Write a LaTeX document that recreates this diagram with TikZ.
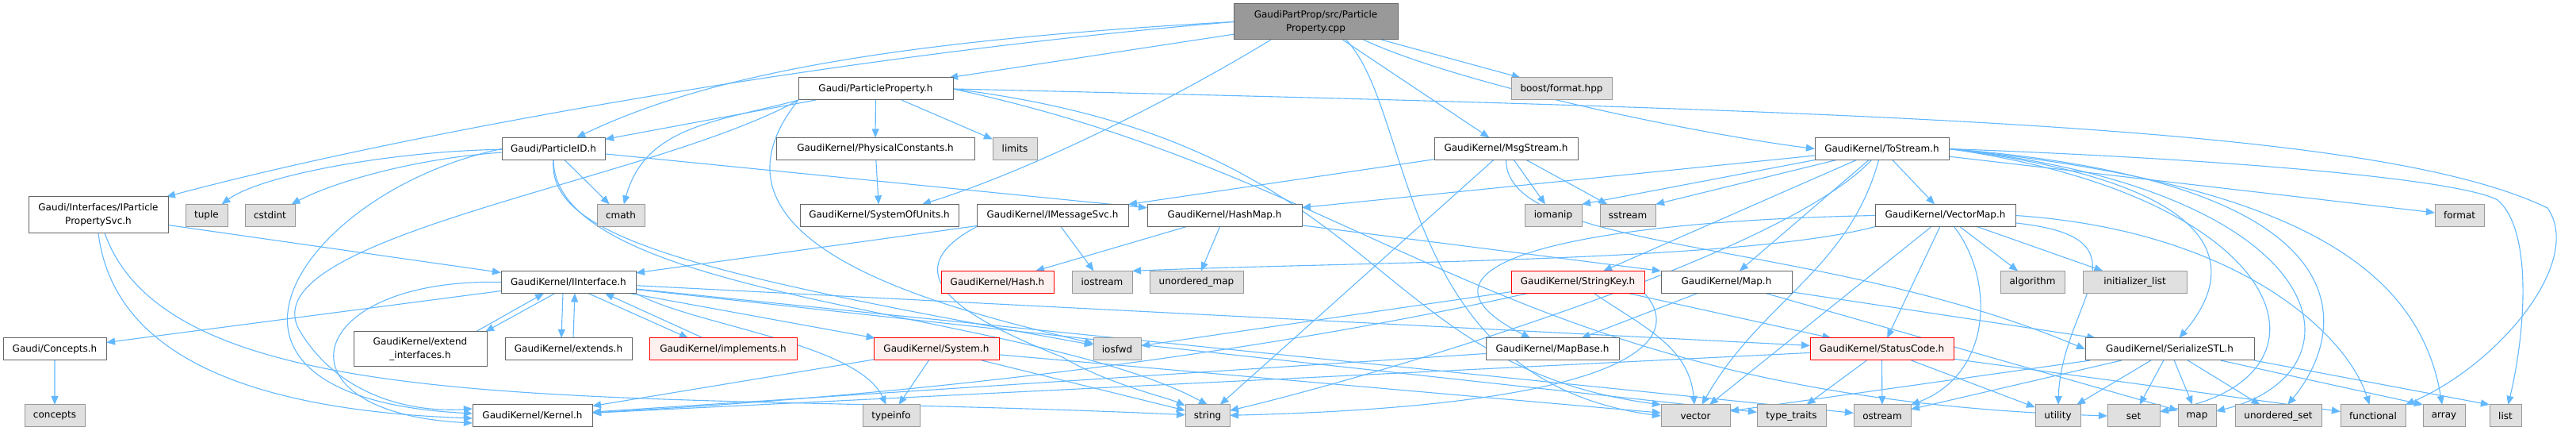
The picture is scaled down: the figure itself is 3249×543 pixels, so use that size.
\documentclass[tikz,border=0pt]{standalone}
\usepackage{fontspec}
\setmainfont{DejaVu Sans}
\usetikzlibrary{arrows.meta,backgrounds}

\definecolor{edgeblue}{HTML}{63B8FF}
\definecolor{boxline}{HTML}{666666}
\definecolor{sysline}{HTML}{999999}
\definecolor{sysfill}{HTML}{E0E0E0}
\definecolor{truncline}{HTML}{FF0000}
\definecolor{truncfill}{HTML}{FFF0F0}
\definecolor{rootfill}{HTML}{999999}

\begin{document}
\begin{tikzpicture}[x=1pt,y=1pt,scale=0.2,transform shape,font=\fontsize{12}{17}\selectfont,
  hdr/.style={rectangle,draw=boxline,fill=white,line width=0.2pt,align=center,minimum height=28pt,inner sep=0pt},
  sys/.style={hdr,draw=sysline,fill=sysfill},
  trunc/.style={hdr,draw=truncline,fill=truncfill},
  mainfile/.style={hdr,fill=rootfill},
  inc/.style={draw=edgeblue,line width=0.22pt,-{Triangle[length=2.2pt,width=1.8pt]}}]
\useasboundingbox (0,0) rectangle (3249,-543);

\node (root) [mainfile,minimum width=207pt,minimum height=45pt] at (1659.5,-27.5) {GaudiPartProp/src/Particle\\Property.cpp};

\node (pp) [hdr,minimum width=195pt] at (1104.5,-112) {Gaudi/ParticleProperty.h};
\node (boost) [sys,minimum width=127pt] at (1969.5,-112) {boost/format.hpp};

\node (pid) [hdr,minimum width=130pt] at (698,-187.5) {Gaudi/ParticleID.h};
\node (phys) [hdr,minimum width=250pt] at (1104,-187.5) {GaudiKernel/PhysicalConstants.h};
\node (limits) [sys,minimum width=56pt] at (1280,-187.5) {limits};
\node (msg) [hdr,minimum width=181pt] at (1899.5,-187.5) {GaudiKernel/MsgStream.h};
\node (tostr) [hdr,minimum width=169pt] at (2373.5,-187.5) {GaudiKernel/ToStream.h};

\node (ipps) [hdr,minimum width=176pt,minimum height=46pt] at (124,-271) {Gaudi/Interfaces/IParticle\\PropertySvc.h};
\node (tuple) [sys,minimum width=53pt] at (260.5,-271.5) {tuple};
\node (cstdint) [sys,minimum width=63pt] at (340.5,-271.5) {cstdint};
\node (cmath) [sys,minimum width=60pt] at (783,-271.5) {cmath};
\node (units) [hdr,minimum width=200pt] at (1109,-271.5) {GaudiKernel/SystemOfUnits.h};
\node (imsg) [hdr,minimum width=191pt] at (1327.5,-271.5) {GaudiKernel/IMessageSvc.h};
\node (hashmap) [hdr,minimum width=195pt] at (1544.5,-271.5) {GaudiKernel/HashMap.h};
\node (iomanip) [sys,minimum width=72pt] at (1959,-271.5) {iomanip};
\node (sstream) [sys,minimum width=70pt] at (2053,-271.5) {sstream};
\node (vmap) [hdr,minimum width=177pt] at (2453.5,-271.5) {GaudiKernel/VectorMap.h};
\node (format) [sys,minimum width=62pt] at (3102,-271.5) {format};

\node (iint) [hdr,minimum width=170pt] at (717,-355.5) {GaudiKernel/IInterface.h};
\node (hash) [trunc,minimum width=142pt] at (1258,-355.5) {GaudiKernel/Hash.h};
\node (iostream) [sys,minimum width=76pt] at (1390,-355.5) {iostream};
\node (umap) [sys,minimum width=118pt] at (1509,-355.5) {unordered\_map};
\node (skey) [trunc,minimum width=168pt] at (1990,-355.5) {GaudiKernel/StringKey.h};
\node (map_h) [hdr,minimum width=165pt] at (2177.5,-355.5) {GaudiKernel/Map.h};
\node (algorithm) [sys,minimum width=81pt] at (2563.5,-355.5) {algorithm};
\node (initl) [sys,minimum width=131pt] at (2692.5,-355.5) {initializer\_list};

\node (concepts_h) [hdr,minimum width=130pt] at (69,-440) {Gaudi/Concepts.h};
\node (extif) [hdr,minimum width=168pt,minimum height=44pt] at (530,-440) {GaudiKernel/extend\\\_interfaces.h};
\node (extends) [hdr,minimum width=160pt] at (717,-440) {GaudiKernel/extends.h};
\node (impl) [trunc,minimum width=186pt] at (912,-440) {GaudiKernel/implements.h};
\node (system) [trunc,minimum width=158pt] at (1181,-440) {GaudiKernel/System.h};
\node (iosfwd) [sys,minimum width=60pt] at (1409,-440) {iosfwd};
\node (mapbase) [hdr,minimum width=168pt] at (1958,-440) {GaudiKernel/MapBase.h};
\node (status) [trunc,minimum width=181pt] at (2373.5,-440) {GaudiKernel/StatusCode.h};
\node (sstl) [hdr,minimum width=213pt] at (2736.5,-440) {GaudiKernel/SerializeSTL.h};

\node (concepts) [sys,minimum width=76pt] at (69,-524) {concepts};
\node (kernel) [hdr,minimum width=151pt] at (671.5,-524) {GaudiKernel/Kernel.h};
\node (typeinfo) [sys,minimum width=72pt] at (1124,-524) {typeinfo};
\node (string) [sys,minimum width=56pt] at (1523,-524) {string};
\node (vector) [sys,minimum width=87pt] at (2138.5,-524) {vector};
\node (typetraits) [sys,minimum width=87pt] at (2259.5,-524) {type\_traits};
\node (ostream) [sys,minimum width=72pt] at (2374,-524) {ostream};
\node (utility) [sys,minimum width=57pt] at (2595.5,-524) {utility};
\node (set) [sys,minimum width=66pt] at (2691,-524) {set};
\node (map) [sys,minimum width=48pt] at (2771,-524) {map};
\node (uset) [sys,minimum width=109pt] at (2873.5,-524) {unordered\_set};
\node (functional) [sys,minimum width=82pt] at (2993,-524) {functional};
\node (array) [sys,minimum width=53pt] at (3082.5,-524) {array};
\node (list) [sys,minimum width=40pt] at (3160,-524) {list};

\begin{pgfonlayer}{background}
% source file
\draw[inc] (root.west) .. controls (1050,-70) and (500,-170) .. (ipps);
\draw[inc] (root.west) .. controls (1150,-50) and (900,-90) .. (pid);
\draw[inc] (root) -- (pp);
\draw[inc] ([xshift=47pt]root.south west) .. controls (1480,-125) and (1300,-215) .. ([xshift=54pt]units.north);
\draw[inc] ([xshift=38pt]root.south) .. controls (1785,-140) and (1760,-480) .. (vector.west);
\draw[inc] (root) -- (boost);
\draw[inc] (root) -- (msg);
\draw[inc] ([xshift=60pt]root.south) .. controls (1850,-110) and (2150,-170) .. (tostr.west);

% Gaudi/ParticleProperty.h
\draw[inc] (pp) -- (pid);
\draw[inc] (pp.south west) .. controls (907,-153) and (814,-158) .. (cmath);
\draw[inc] (pp) -- (phys);
\draw[inc] (pp) -- (limits);
\draw[inc] (pp.south west) .. controls (820,-230) and (300,-300) .. (380,-420) .. controls (430,-500) and (520,-520) .. ([yshift=9pt]kernel.west);
\draw[inc] (pp.south west) .. controls (860,-310) and (1200,-390) .. (iosfwd);
\draw[inc] (pp.east) .. controls (1750,-180) and (1720,-460) .. (vector.north west);
\draw[inc] (pp.east) .. controls (1750,-230) and (1900,-500) .. (set.west);
\draw[inc] (pp.east) .. controls (2400,-140) and (3000,-160) .. (3213,-262) .. controls (3260,-330) and (3150,-460) .. (functional.north east);

% Gaudi/ParticleID.h
\draw[inc] (pid) .. controls (500,-190) and (330,-220) .. (tuple);
\draw[inc] (pid) .. controls (520,-200) and (420,-230) .. (cstdint);
\draw[inc] (pid) -- (cmath);
\draw[inc] (pid) -- (hashmap);
\draw[inc] (pid.west) .. controls (380,-240) and (200,-500) .. ([yshift=3pt]kernel.west);
\draw[inc] (pid.south) .. controls (690,-300) and (880,-345) .. (iosfwd);
\draw[inc] (pid.south) .. controls (700,-380) and (1300,-390) .. (string.north);
\draw[inc] (phys) -- (units);

% Gaudi/Interfaces/IParticlePropertySvc.h
\draw[inc] (ipps) -- (iint);
\draw[inc] (ipps.south) .. controls (140,-420) and (260,-515) .. ([yshift=-3pt]kernel.west);
\draw[inc] (ipps) .. controls (220,-540) and (800,-490) .. (string);

% GaudiKernel/MsgStream.h
\draw[inc] (msg) -- (imsg);
\draw[inc] (msg) -- (iomanip);
\draw[inc] (msg) -- (sstream);
\draw[inc] (msg) -- (string);
\draw[inc] (msg.south) .. controls (1900,-320) and (2300,-300) .. (sstl.west);

% GaudiKernel/ToStream.h
\draw[inc] (tostr) -- (hashmap);
\draw[inc] (tostr.south west) -- (iomanip.north east);
\draw[inc] (tostr) -- (sstream.north east);
\draw[inc] (tostr) -- (vmap);
\draw[inc] (tostr) -- (format);
\draw[inc] (tostr.east) .. controls (2800,-200) and (3100,-225) .. (3150,-252) .. controls (3195,-290) and (3185,-420) .. (list);
\draw[inc] (tostr.east) .. controls (2880,-230) and (3050,-330) .. (array);
\draw[inc] (tostr.east) .. controls (3000,-230) and (2960,-420) .. (uset);
\draw[inc] (tostr.east) .. controls (2950,-240) and (2990,-470) .. (map);
\draw[inc] (tostr.east) .. controls (2900,-250) and (2960,-480) .. (set);
\draw[inc] (tostr.east) .. controls (2800,-230) and (2830,-330) .. (sstl);
\draw[inc] (tostr) -- (map_h);
\draw[inc] (tostr) -- (skey);
\draw[inc] (tostr) .. controls (2331,-341) and (2221,-379) .. (vector);
\draw[inc] (tostr) .. controls (2250,-320) and (1750,-470) .. (string);

% GaudiKernel/VectorMap.h
\draw[inc] (vmap.west) .. controls (1950,-280) and (1760,-340) .. (mapbase);
\draw[inc] (vmap.south west) .. controls (2200,-330) and (1700,-330) .. (iostream.north east);
\draw[inc] (vmap) -- (algorithm);
\draw[inc] (vmap) -- (initl);
\draw[inc] (vmap.east) .. controls (2820,-290) and (2960,-420) .. (functional);
\draw[inc] (vmap) .. controls (2515,-350) and (2515,-470) .. (ostream);
\draw[inc] (vmap) .. controls (2720,-300) and (2600,-380) .. (utility);
\draw[inc] (vmap) -- (vector);
\draw[inc] (vmap) -- (status);

% GaudiKernel/Map.h, StringKey.h, MapBase.h
\draw[inc] (map_h) -- (mapbase);
\draw[inc] (map_h) -- (sstl);
\draw[inc] (map_h) -- (map);
\draw[inc] (skey) .. controls (1700,-420) and (1300,-490) .. (kernel);
\draw[inc] (skey) -- (iosfwd);
\draw[inc] (skey.south east) .. controls (2120,-420) and (2090,-510) .. (string);
\draw[inc] (skey) .. controls (2071,-411) and (2130,-436) .. (vector);
\draw[inc] (skey) -- (status);
\draw[inc] (mapbase) -- (kernel);

% GaudiKernel/StatusCode.h, SerializeSTL.h, System.h
\draw[inc] (status) -- (kernel);
\draw[inc] (status) -- (typetraits);
\draw[inc] (status) -- (ostream);
\draw[inc] (status) -- (utility);
\draw[inc] (status) -- (functional);
\draw[inc] (sstl) -- (vector);
\draw[inc] (sstl) -- (ostream);
\draw[inc] (sstl) -- (utility);
\draw[inc] (sstl) -- (set);
\draw[inc] (sstl) -- (map);
\draw[inc] (sstl) -- (uset);
\draw[inc] (sstl) -- (array.north west);
\draw[inc] (sstl.south east) -- (list.north west);
\draw[inc] (system) -- (kernel);
\draw[inc] (system) -- (typeinfo);
\draw[inc] (system) -- (string);
\draw[inc] (system) -- (vector);

% GaudiKernel/IInterface.h
\draw[inc] (iint) -- (concepts_h);
\draw[inc] (iint.west) .. controls (380,-350) and (340,-520) .. ([yshift=-9pt]kernel.west);
\draw[inc] (iint) -- (status);
\draw[inc] (iint) -- (system);
\draw[inc] (iint.south east) .. controls (874,-410) and (1082,-432) .. (typeinfo);
\draw[inc] (iint) -- (typetraits);
\draw[inc] (iint) -- (ostream);
\draw[inc] ([xshift=-17pt]iint.south) -- ([xshift=-2pt]extif.north east);
\draw[inc] ([xshift=-14pt]extif.north east) -- ([xshift=-31pt]iint.south);
\draw[inc] ([xshift=-7pt]iint.south) -- ([xshift=-9pt]extends.north);
\draw[inc] ([xshift=6pt]extends.north) -- ([xshift=8pt]iint.south);
\draw[inc] ([xshift=25pt]iint.south) -- ([xshift=-44pt]impl.north);
\draw[inc] ([xshift=-25pt]impl.north) -- ([xshift=46pt]iint.south);

% GaudiKernel/IMessageSvc.h, HashMap.h
\draw[inc] (imsg) -- (iint);
\draw[inc] (imsg) -- (iostream);
\draw[inc] (imsg.south west) .. controls (1110,-350) and (1240,-410) .. (1340,-450) .. controls (1400,-485) and (1470,-500) .. (string);
\draw[inc] (hashmap) -- (hash);
\draw[inc] (hashmap) -- (map_h.north west);
\draw[inc] (hashmap) -- (umap);
\draw[inc] (concepts_h) -- (concepts);
\end{pgfonlayer}
\end{tikzpicture}
\end{document}
